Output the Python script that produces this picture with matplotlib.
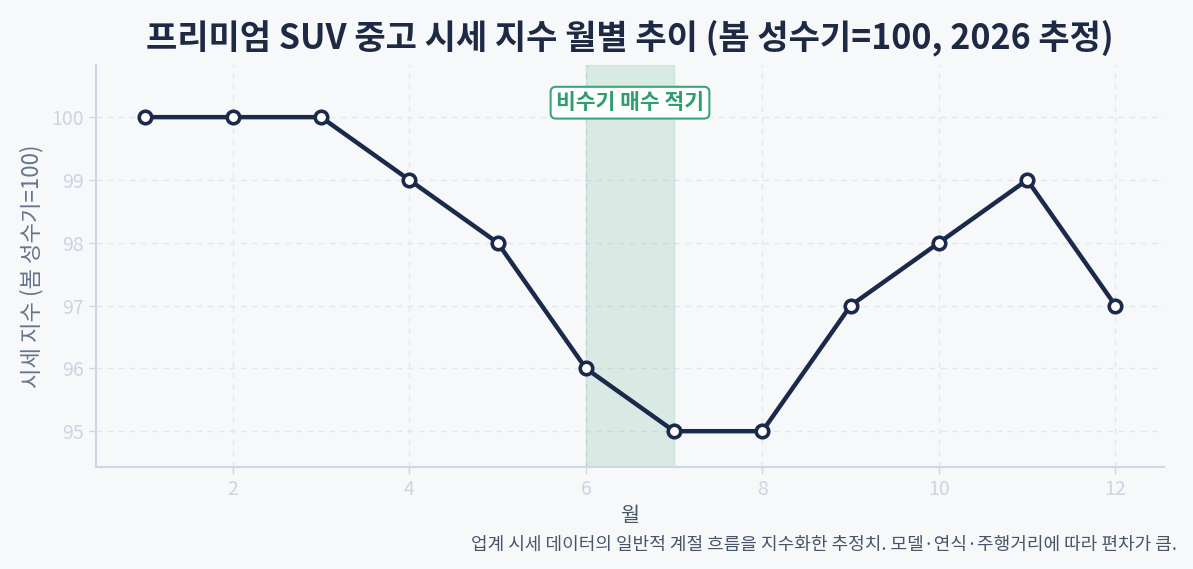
import matplotlib
matplotlib.use("Agg")
import matplotlib.pyplot as plt

plt.rcParams['font.family'] = ['Noto Sans CJK KR', 'DejaVu Sans']

months = [1, 2, 3, 4, 5, 6, 7, 8, 9, 10, 11, 12]
index_values = [100, 100, 100, 99, 98, 96, 95, 95, 97, 98, 99, 97]
x_ticks = [2, 4, 6, 8, 10, 12]
y_ticks = [95, 96, 97, 98, 99, 100]

title = "프리미엄 SUV 중고 시세 지수 월별 추이 (봄 성수기=100, 2026 추정)"
xlabel = "월"
ylabel = "시세 지수 (봄 성수기=100)"
annot = "비수기 매수 적기"
note = "업계 시세 데이터의 일반적 계절 흐름을 지수화한 추정치. 모델·연식·주행거리에 따라 편차가 큼."

bg = "#f7f8fa"
fig = plt.figure(figsize=(11.93, 5.69), dpi=100, facecolor=bg)
ax = fig.add_axes([96/1193, 1-467/569, (1164-96)/1193, (467-65)/569])
ax.set_facecolor(bg)

ax.axvspan(6, 7, color="#2e9e6e", alpha=0.15, lw=1)
ax.plot(months, index_values, color="#1b2a4a", lw=3.2, marker="o", ms=9,
        mfc="white", mec="#1b2a4a", mew=2.6, zorder=3)

ax.text(6.5, 100.23, annot, ha="center", va="center", fontsize=15.5, fontweight="bold",
        color="#2e9e6e",
        bbox=dict(boxstyle="round,pad=0.25", fc="white", ec="#3aa676", lw=1.5))

ax.set_xlim(0.45, 12.55)
ax.set_ylim(94.43, 100.83)
ax.set_xticks(x_ticks)
ax.set_yticks(y_ticks)
ax.grid(True, ls=(0, (4, 4)), color="#e2e6ee", lw=1)
ax.set_axisbelow(True)
for s in ["top", "right"]:
    ax.spines[s].set_visible(False)
for s in ["left", "bottom"]:
    ax.spines[s].set_color("#cfd7e3")
    ax.spines[s].set_linewidth(1.5)
ax.tick_params(colors="#cfd7e3", labelcolor="#cbd5e1", labelsize=14, length=5, width=1)

ax.set_xlabel(xlabel, fontsize=15, color="#475569", labelpad=4)
ax.set_ylabel(ylabel, fontsize=16, color="#64748b", labelpad=6)
ax.set_title(title, fontsize=24.5, fontweight="bold", color="#1e2a44", pad=12)

fig.text(1177/1193, 1-545/569, note, ha="right", va="center", fontsize=13, color="#475569")

fig.savefig("out.png", dpi=100, facecolor=bg)
